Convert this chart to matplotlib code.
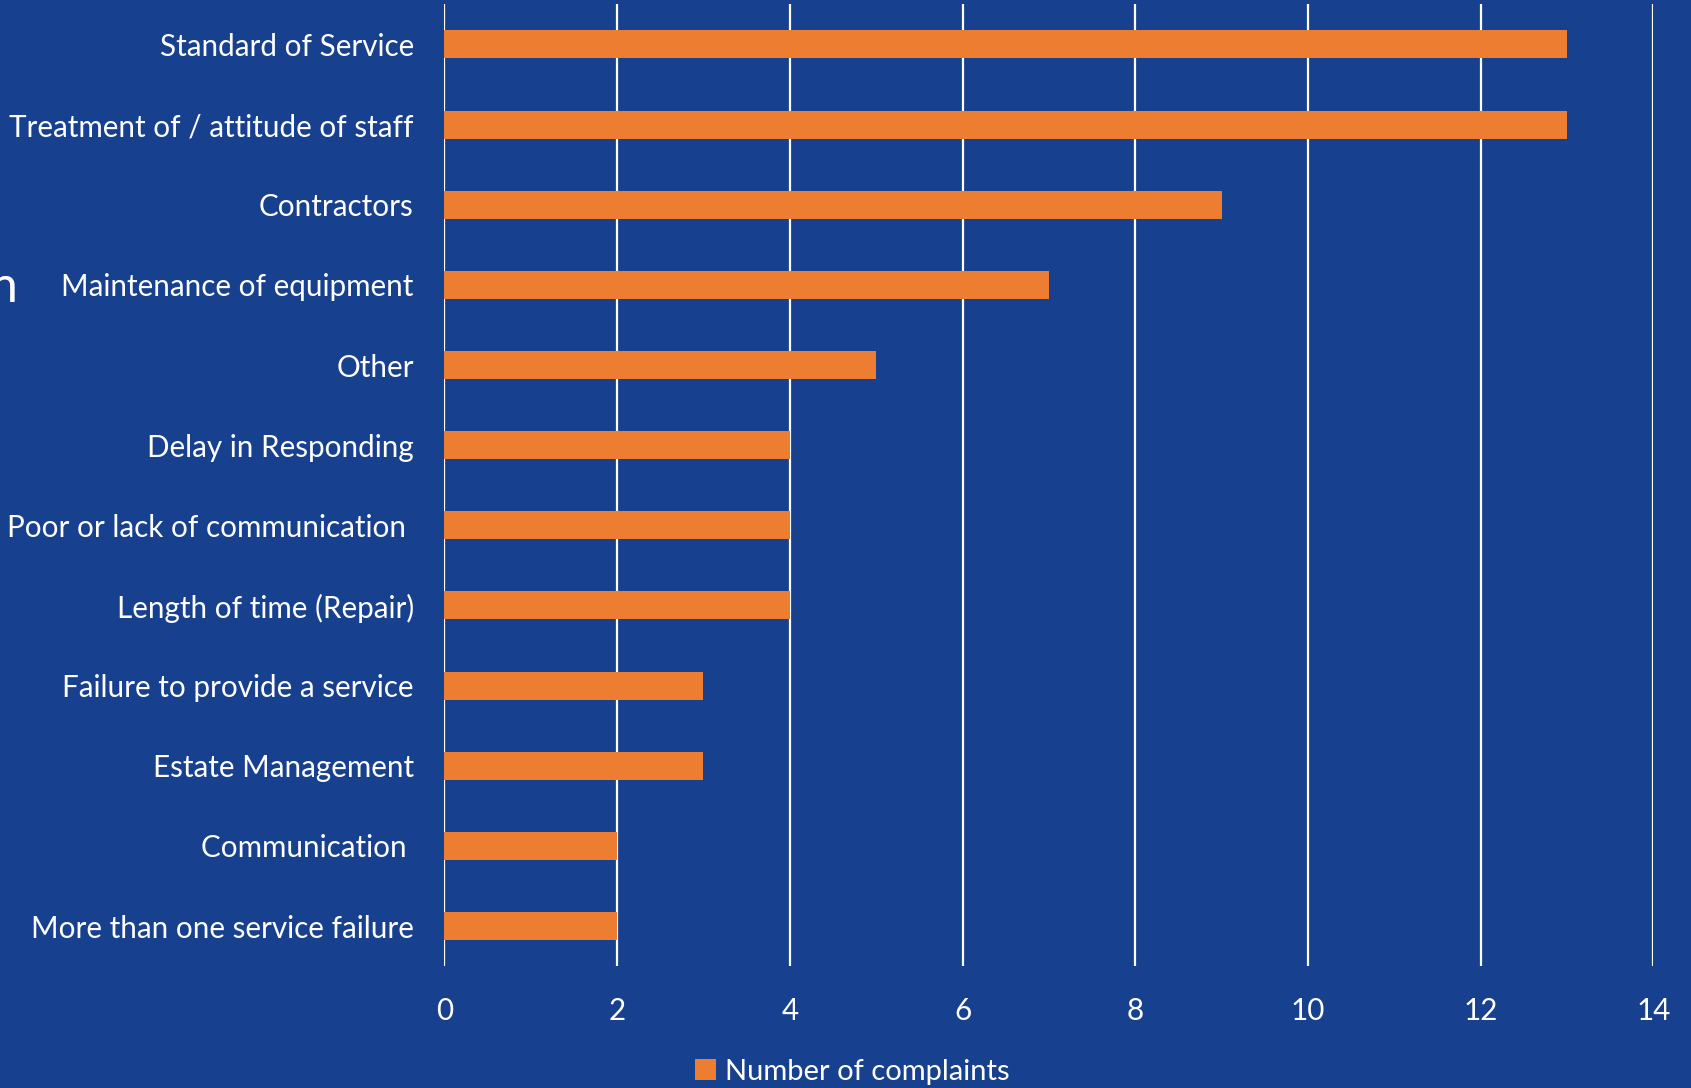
import matplotlib.pyplot as plt

categories = [
    "Standard of Service",
    "Treatment of / attitude of staff",
    "Contractors",
    "Maintenance of equipment",
    "Other",
    "Delay in Responding",
    "Poor or lack of communication ",
    "Length of time (Repair)",
    "Failure to provide a service",
    "Estate Management",
    "Communication ",
    "More than one service failure",
]
complaints = [13, 13, 9, 7, 5, 4, 4, 4, 3, 3, 2, 2]
x_ticks = [0, 2, 4, 6, 8, 10, 12, 14]

BG = "#17408F"
BAR = "#ED7D31"

plt.rcParams["font.family"] = ["Lato", "DejaVu Sans"]

fig = plt.figure(figsize=(16.91, 10.88), dpi=100, facecolor=BG)
ax = fig.add_axes([0.2628, 0.112, 0.715, 0.884], facecolor=BG)

pos = list(range(len(categories)))
ax.barh(pos, complaints, height=0.35, color=BAR, zorder=3, label="Number of complaints")
ax.set_ylim(len(categories) - 0.5, -0.5)
ax.set_xlim(0, 14)
ax.set_xticks(x_ticks)
ax.set_yticks(pos)
ax.set_yticklabels(categories)

ax.grid(axis="x", color="white", linewidth=1.6, zorder=1)
ax.grid(axis="y", visible=False)
for s in ax.spines.values():
    s.set_visible(False)
ax.tick_params(length=0, colors="white", labelsize=21.3)
ax.tick_params(axis="y", pad=22)
ax.tick_params(axis="x", pad=22)

fig.legend(loc="center", bbox_to_anchor=(0.504, 0.015), frameon=False,
           fontsize=21, labelcolor="white", handlelength=0.7, handleheight=0.7,
           handletextpad=0.3)

# stray cut-off character at the left edge
fig.text(-0.006, 0.735, "n", color="white", fontsize=36, va="center", ha="left")

fig.savefig("out.png", dpi=100, facecolor=BG)
